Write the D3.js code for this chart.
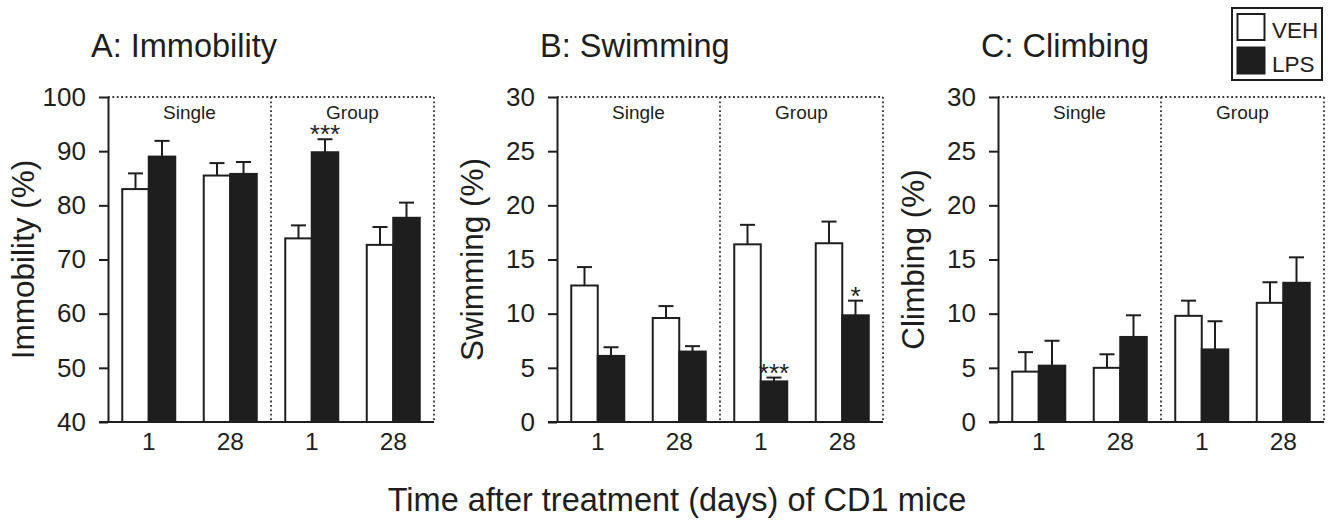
<!DOCTYPE html>
<html>
<head>
<meta charset="utf-8">
<script src="https://cdn.jsdelivr.net/npm/d3@7"></script>
<style>
  body { margin: 0; background: #fff; }
  text { font-family: "Liberation Sans", Arial, Helvetica, sans-serif; fill: #1e1e1e; }
</style>
</head>
<body>
<div id="chart"></div>
<script>
// ==== Data ====
const groups = ["s1", "s28", "g1", "g28"];
const dayLabels = ["1", "28", "1", "28"];
const housing = ["Single", "Group"];
const treatments = ["VEH", "LPS"];

// A: Immobility (%)
const immobVEH = [83.0, 85.5, 73.9, 72.7];
const immobVEHsem = [2.9, 2.3, 2.4, 3.3];
const immobLPS = [89.0, 85.8, 89.8, 77.7];
const immobLPSsem = [2.9, 2.2, 2.4, 2.8];
const immobStars = ["", "", "***", ""];

// B: Swimming (%)
const swimVEH = [12.6, 9.6, 16.4, 16.5];
const swimVEHsem = [1.7, 1.1, 1.8, 2.0];
const swimLPS = [6.1, 6.5, 3.75, 9.85];
const swimLPSsem = [0.8, 0.5, 0.35, 1.35];
const swimStars = ["", "", "***", "*"];

// C: Climbing (%)
const climbVEH = [4.65, 5.0, 9.8, 11.0];
const climbVEHsem = [1.8, 1.25, 1.4, 1.9];
const climbLPS = [5.2, 7.85, 6.7, 12.85];
const climbLPSsem = [2.3, 2.0, 2.6, 2.35];
const climbStars = ["", "", "", ""];

const xTitle = "Time after treatment (days) of CD1 mice";

// ==== Setup ====
const width = 1329, height = 520;
const ink = "#1e1e1e";
const plotTop = 97, plotBottom = 422, plotW = 326;

const svg = d3.select("#chart").append("svg")
  .attr("width", width)
  .attr("height", height);

const panels = [
  { left: 108, title: "A: Immobility", ylab: "Immobility (%)", domain: [40, 100], step: 10,
    veh: immobVEH, vehSem: immobVEHsem, lps: immobLPS, lpsSem: immobLPSsem, stars: immobStars },
  { left: 557, title: "B: Swimming", ylab: "Swimming (%)", domain: [0, 30], step: 5,
    veh: swimVEH, vehSem: swimVEHsem, lps: swimLPS, lpsSem: swimLPSsem, stars: swimStars },
  { left: 998, title: "C: Climbing", ylab: "Climbing (%)", domain: [0, 30], step: 5,
    veh: climbVEH, vehSem: climbVEHsem, lps: climbLPS, lpsSem: climbLPSsem, stars: climbStars },
];

function drawPanel(p) {
  const g = svg.append("g").attr("transform", `translate(${p.left},0)`);

  const y = d3.scaleLinear().domain(p.domain).range([plotBottom, plotTop]);
  const x = d3.scaleBand().domain(groups).range([0, plotW]);
  const half = 26.5;
  const inner = d3.scaleBand().domain(treatments)
    .range([x.bandwidth() / 2 - half, x.bandwidth() / 2 + half]);

  // dotted frame: top, divider, right edge
  const dotted = (x1, y1, x2, y2) => g.append("line")
    .attr("x1", x1).attr("y1", y1).attr("x2", x2).attr("y2", y2)
    .attr("stroke", "#333").attr("stroke-width", 1.8)
    .attr("stroke-dasharray", "1.8,2.6");
  dotted(0, plotTop, plotW, plotTop);
  dotted(plotW, plotTop, plotW, plotBottom);
  dotted(plotW / 2, plotTop, plotW / 2, plotBottom);

  // housing labels
  housing.forEach((h, i) => {
    g.append("text")
      .attr("x", plotW / 4 + i * plotW / 2)
      .attr("y", 119)
      .attr("text-anchor", "middle")
      .attr("font-size", 19)
      .text(h);
  });

  // bars
  const rows = groups.map((k, i) => ({
    key: k,
    vals: [
      { t: "VEH", v: p.veh[i], s: p.vehSem[i], star: "" },
      { t: "LPS", v: p.lps[i], s: p.lpsSem[i], star: p.stars[i] },
    ],
  }));

  const gg = g.selectAll(".grp").data(rows).join("g")
    .attr("class", "grp")
    .attr("transform", d => `translate(${x(d.key)},0)`);

  const bar = gg.selectAll(".bar").data(d => d.vals).join("g").attr("class", "bar");
  const mid = d => inner(d.t) + inner.bandwidth() / 2;

  // error bars (upward only)
  bar.append("line")
    .attr("x1", mid).attr("x2", mid)
    .attr("y1", d => y(d.v))
    .attr("y2", d => y(d.v + d.s))
    .attr("stroke", ink).attr("stroke-width", 2);
  bar.append("line")
    .attr("x1", d => mid(d) - 7.5)
    .attr("x2", d => mid(d) + 7.5)
    .attr("y1", d => y(d.v + d.s))
    .attr("y2", d => y(d.v + d.s))
    .attr("stroke", ink).attr("stroke-width", 2);

  bar.append("rect")
    .attr("x", d => inner(d.t))
    .attr("width", inner.bandwidth())
    .attr("y", d => y(d.v))
    .attr("height", d => y(p.domain[0]) - y(d.v))
    .attr("fill", d => d.t === "VEH" ? "#fff" : ink)
    .attr("stroke", ink)
    .attr("stroke-width", 2);

  bar.filter(d => d.star).append("text")
    .attr("x", mid)
    .attr("y", d => y(d.v + d.s) + 4)
    .attr("text-anchor", "middle")
    .attr("font-size", 26)
    .text(d => d.star);

  // y axis
  const yAxis = d3.axisLeft(y)
    .tickValues(d3.range(p.domain[0], p.domain[1] + 0.001, p.step))
    .tickSize(9).tickPadding(13).tickSizeOuter(0);
  const ya = g.append("g").call(yAxis);
  ya.selectAll("path, line").attr("stroke", ink).attr("stroke-width", 2);
  ya.selectAll("text").attr("font-size", 26).attr("fill", ink)
    .attr("font-family", '"Liberation Sans", Arial, sans-serif');

  // x axis
  const xAxis = d3.axisBottom(x).tickSize(0).tickPadding(11)
    .tickFormat((d, i) => dayLabels[i]);
  const xa = g.append("g").attr("transform", `translate(0,${plotBottom})`).call(xAxis);
  xa.select(".domain").attr("stroke", ink).attr("stroke-width", 2)
    .attr("d", `M-9,0H${plotW}`);
  xa.selectAll("text").attr("font-size", 24.5).attr("fill", ink)
    .attr("font-family", '"Liberation Sans", Arial, sans-serif');

  // titles
  g.append("text")
    .attr("x", -17).attr("y", 57)
    .attr("font-size", 32.5)
    .text(p.title);

  g.append("text")
    .attr("transform", `translate(-74,${(plotTop + plotBottom) / 2}) rotate(-90)`)
    .attr("text-anchor", "middle")
    .attr("font-size", 31.5)
    .text(p.ylab);
}

panels.forEach(drawPanel);

// x title
svg.append("text")
  .attr("x", 677).attr("y", 511)
  .attr("text-anchor", "middle")
  .attr("font-size", 32.5)
  .text(xTitle);

// legend
const legend = svg.append("g").attr("transform", "translate(1232,8)");
legend.append("rect")
  .attr("width", 90).attr("height", 72)
  .attr("fill", "#fff").attr("stroke", ink).attr("stroke-width", 2);
treatments.forEach((t, i) => {
  legend.append("rect")
    .attr("x", 5.5).attr("y", 6 + i * 33.5)
    .attr("width", 27).attr("height", 26)
    .attr("fill", t === "VEH" ? "#fff" : ink)
    .attr("stroke", ink).attr("stroke-width", 2);
  legend.append("text")
    .attr("x", 40).attr("y", 29.5 + i * 34.5)
    .attr("font-size", 22.5)
    .text(t);
});
</script>
</body>
</html>
